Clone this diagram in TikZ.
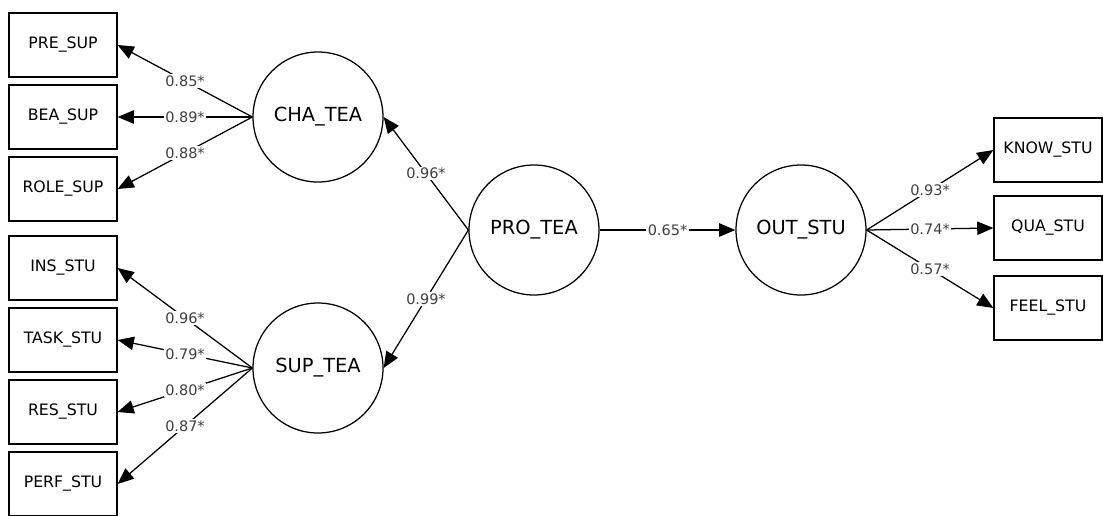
\documentclass[tikz,border=0pt]{standalone}
\usepackage{fontspec}
\setmainfont{DejaVu Sans}
\usepackage{tikz}
\usetikzlibrary{arrows.meta}

\begin{document}
\begin{tikzpicture}[
    obs/.style={draw,line width=0.9pt,minimum width=2.7cm,minimum height=1.6cm,font=\fontsize{11.2}{13}\selectfont},
    lat/.style={draw,circle,line width=0.9pt,minimum size=3.25cm,inner sep=0pt,font=\fontsize{13.8}{16}\selectfont},
    path/.style={line width=0.9pt,-{Triangle[length=11.5pt,width=9.5pt]}},
    lab/.style={midway,fill=white,inner sep=1pt,text=black!75,font=\fontsize{10.3}{12}\selectfont}]
            \useasboundingbox (0,0) rectangle (27.575,-12.875);
            % indicators of the latent variables
            \node [obs] (pre) at (1.575,-1.125) {PRE\_SUP};
            \node [obs] (bea) at (1.575,-2.925) {BEA\_SUP};
            \node [obs] (role) at (1.575,-4.725) {ROLE\_SUP};
            \node [obs] (ins) at (1.575,-6.7) {INS\_STU};
            \node [obs] (task) at (1.575,-8.5) {TASK\_STU};
            \node [obs] (res) at (1.575,-10.3) {RES\_STU};
            \node [obs] (perf) at (1.575,-12.1) {PERF\_STU};
            \node [obs] (know) at (26.2,-3.75) {KNOW\_STU};
            \node [obs] (qua) at (26.2,-5.7) {QUA\_STU};
            \node [obs] (feel) at (26.2,-7.7) {FEEL\_STU};
            % latent variables
            \node [lat] (cha) at (7.95,-2.925) {CHA\_TEA};
            \node [lat] (sup) at (7.95,-9.2) {SUP\_TEA};
            \node [lat] (pro) at (13.35,-5.75) {PRO\_TEA};
            \node [lat] (out) at (20.025,-5.75) {OUT\_STU};
            % loadings
            \draw [path] (cha.west) -- node [lab] (l1) {0.85*} (pre.east);
            \draw [path] (cha.west) -- node [lab] (l2) {0.89*} (bea.east);
            \draw [path] (cha.west) -- node [lab] (l3) {0.88*} (role.east);
            \draw [path] (sup.west) -- node [lab] (l4) {0.96*} (ins.east);
            \draw [path] (sup.west) -- node [lab] (l5) {0.79*} (task.east);
            \draw [path] (sup.west) -- node [lab] (l6) {0.80*} (res.east);
            \draw [path] (sup.west) -- node [lab] (l7) {0.87*} (perf.east);
            \draw [path] (pro.west) -- node [lab] (l8) {0.96*} (cha.east);
            \draw [path] (pro.west) -- node [lab] (l9) {0.99*} (sup.east);
            \draw [path] (pro.east) -- node [lab] (l10) {0.65*} (out.west);
            \draw [path] (out.east) -- node [lab] (l11) {0.93*} (know.west);
            \draw [path] (out.east) -- node [lab] (l12) {0.74*} (qua.west);
            \draw [path] (out.east) -- node [lab] (l13) {0.57*} (feel.west);
        \end{tikzpicture}
\end{document}
